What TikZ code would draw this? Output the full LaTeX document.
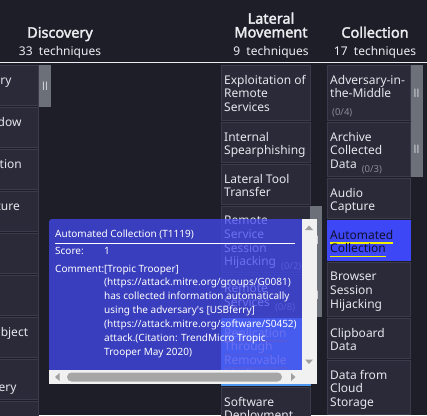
\documentclass[tikz,border=0pt]{standalone}
\usepackage{fontspec}
\setmainfont{Noto Sans}
\newfontfamily\headfont{Noto Sans}[FakeBold=2.2]
\usetikzlibrary{positioning}

\definecolor{navbg}{HTML}{1E1E29}
\definecolor{cellfill}{HTML}{2A2A38}
\definecolor{cellline}{HTML}{3B3B4B}
\definecolor{cellink}{HTML}{E6E6EE}
\definecolor{headwhite}{HTML}{ECECF0}
\definecolor{togglegray}{HTML}{6C7078}
\definecolor{markwhite}{HTML}{D6D6DC}
\definecolor{countgray}{HTML}{8A8A98}
\definecolor{autoblue}{HTML}{3D47F5}
\definecolor{autoink}{HTML}{101030}
\definecolor{markyellow}{HTML}{F2F200}
\definecolor{repblue}{HTML}{4F96EE}
\definecolor{repline}{HTML}{8C8CA0}
\definecolor{tipblue}{HTML}{4349F0}
\definecolor{barback}{HTML}{F1F1F1}
\definecolor{thumbgray}{HTML}{A6A6A6}
\definecolor{arrowgray}{HTML}{A0A0A0}

\newcommand\cellfont{\fontsize{12}{13.7}\selectfont}
\newcommand\tipfont{\fontsize{10}{13.95}\selectfont}
\newsavebox\markbox
\newcommand\marked[2]{\sbox\markbox{#2}\rlap{\color{#1}\rule[-4.5pt]{\wd\markbox}{1.7pt}}\usebox\markbox}
\newcommand\subcount[1]{\hspace{2pt}\raisebox{-4pt}{\fontsize{9.5}{10}\selectfont\color{countgray}#1}}

\begin{document}
\begin{tikzpicture}[x=1pt, y=-1pt,
    cell/.style={draw=cellline, fill=cellfill, line width=0.8pt, inner sep=0pt, outer sep=0pt},
    disccell/.style={cell, minimum width=98.5pt, minimum height=40.5pt},
    latcell/.style={cell, minimum width=89pt},
    collcell/.style={cell, minimum width=83.5pt},
    celltext/.style={anchor=north west, inner sep=0pt, xshift=3pt, yshift=-9.9pt,
        align=left, text=cellink, font=\cellfont},
    frag/.style={anchor=base east, inner sep=0pt, text=cellink, font=\cellfont},
    toggle/.style={fill=togglegray, minimum width=12pt, inner sep=0pt, outer sep=0pt,
        anchor=north west, text=markwhite, font=\fontsize{11}{11}\selectfont},
    tacname/.style={text=headwhite, font=\headfont\fontsize{14.5}{13.7}\selectfont,
        align=center, inner sep=0pt},
    taccount/.style={text=headwhite, font=\fontsize{12}{13.7}\selectfont, inner sep=0pt, anchor=base},
    tiptext/.style={text=white, font=\tipfont, inner sep=0pt, anchor=base west, align=left}]

    \useasboundingbox (0,0) rectangle (427,415);
    \fill[navbg] (0,0) rectangle (427,415);

    \node[tacname, anchor=base] (disc) at (60,37.7) {Discovery};
    \node[taccount] (disccount) at (60,55) {33~~techniques};
    \node[tacname, anchor=south] (lat) at (271,37.7) {Lateral\\Movement};
    \node[taccount] (latcount) at (271,55) {9~~techniques};
    \node[tacname, anchor=base] (coll) at (375,37.7) {Collection};
    \node[taccount] (collcount) at (375,55) {17~~techniques};
    \draw[headwhite, line width=1pt] (0,62.5) -- (427,62.5);

    \node[disccell, anchor=north east] (d1) at (38.5,65) {};
    \foreach \i [remember=\i as \last (initially 1)] in {2,...,9}
        \node[disccell, below=1.5pt of d\last] (d\i) {};
    \draw[cellline, line width=0.8pt] (d1.north east) -- (d9.south east);
    \node[toggle, minimum height=42pt] (dt1) at (39,65) {ll};
    \node[frag] at (11.7,84) {ry};
    \node[frag] at (21.7,126) {dow};
    \node[frag] at (22,168) {tion};
    \node[frag] at (20,210) {ture};
    \node[frag] at (28.3,336) {bject};
    \node[frag] at (16.7,391.7) {ery};

    \node[latcell, minimum height=55pt, anchor=north west,
        label={[celltext]north west:Exploitation of\\Remote\\Services}] (l1) at (221,65) {};
    \node[latcell, minimum height=40pt, below=2pt of l1,
        label={[celltext]north west:Internal\\Spearphishing}] (l2) {};
    \node[latcell, minimum height=40pt, below=2pt of l2,
        label={[celltext]north west:Lateral Tool\\Transfer}] (l3) {};
    \node[latcell, minimum height=66pt, below=2pt of l3,
        label={[celltext]north west:Remote\\Service\\Session\\Hijacking \subcount{(0/2)}}] (l4) {};
    \node[latcell, minimum height=42pt, below=2pt of l4,
        label={[celltext]north west:Remote\\Services \subcount{(0/8)}}] (l5) {};
    \node[latcell, minimum height=67pt, fill=repblue, draw=repblue, below=2pt of l5,
        label={[celltext]north west:\marked{repline}{Replication}\\\marked{repline}{Through}\\
        \marked{repline}{Removable}\\\marked{repline}{Media}}] (l6) {};
    \node[latcell, minimum height=40pt, below=2pt of l6,
        label={[celltext]north west:Software\\Deployment}] (l7) {};
    \node[toggle, minimum height=68pt] (lt4) at (l4.north east) {ll};
    \node[toggle, minimum height=43pt] (lt5) at (l5.north east) {ll};

    \node[collcell, minimum height=55pt, anchor=north west,
        label={[celltext]north west:Adversary-in-\\the-Middle\\\subcount{(0/4)}}] (c1) at (327,65) {};
    \node[collcell, minimum height=54pt, below=2pt of c1,
        label={[celltext]north west:Archive\\Collected\\Data \subcount{(0/3)}}] (c2) {};
    \node[collcell, minimum height=40pt, below=2pt of c2,
        label={[celltext]north west:Audio\\Capture}] (c3) {};
    \node[collcell, minimum height=40pt, fill=autoblue, draw=autoblue, below=2pt of c3,
        label={[celltext, text=autoink]north west:\marked{markyellow}{Automated}\\
        \marked{markyellow}{Collection}}] (c4) {};
    \node[collcell, minimum height=54pt, below=2pt of c4,
        label={[celltext]north west:Browser\\Session\\Hijacking}] (c5) {};
    \node[collcell, minimum height=40pt, below=2pt of c5,
        label={[celltext]north west:Clipboard\\Data}] (c6) {};
    \node[collcell, minimum height=54pt, below=2pt of c6,
        label={[celltext]north west:Data from\\Cloud\\Storage}] (c7) {};
    \node[toggle, minimum height=57pt] (ct1) at (c1.north east) {ll};
    \node[toggle, minimum height=55pt] (ct2) at (c2.north east) {ll};

    \fill[tipblue, fill opacity=0.75] (302,219) -- (52,219)
        arc[start angle=90, end angle=180, radius=3pt] -- (49,370) -- (302,370) -- cycle;
    \fill[barback] (302,219) rectangle (317,384);
    \fill[barback] (49,370) rectangle (302,384);
    \fill[thumbgray, rounded corners=4.5pt] (67,372.5) rectangle (282,381.5);
    \fill[arrowgray] (305,230) -- (313,230) -- (309,225.5) -- cycle;
    \fill[arrowgray] (305,359.5) -- (313,359.5) -- (309,364) -- cycle;
    \fill[arrowgray] (59.5,373) -- (59.5,381) -- (55,377) -- cycle;
    \fill[arrowgray] (291,373) -- (291,381) -- (295.5,377) -- cycle;

    \node[tiptext] (tiptitle) at (55,237) {Automated Collection (T1119)};
    \draw[white, line width=0.9pt] (55,243.3) -- (295,243.3);
    \node[tiptext] (scorekey) at (55,254) {Score:};
    \node[tiptext] (scoreval) at (104,254) {1};
    \node[tiptext] (commentkey) at (55,272) {Comment:};
    \node[tiptext] (comment) at (104,355.7) {[Tropic Trooper]\\
        (https://attack.mitre.org/groups/G0081)\\
        has collected information automatically\\
        using the adversary\textquotesingle s [USBferry]\\
        (https://attack.mitre.org/software/S0452)\\
        attack.(Citation: TrendMicro Tropic\\
        Trooper May 2020)};
\end{tikzpicture}
\end{document}
